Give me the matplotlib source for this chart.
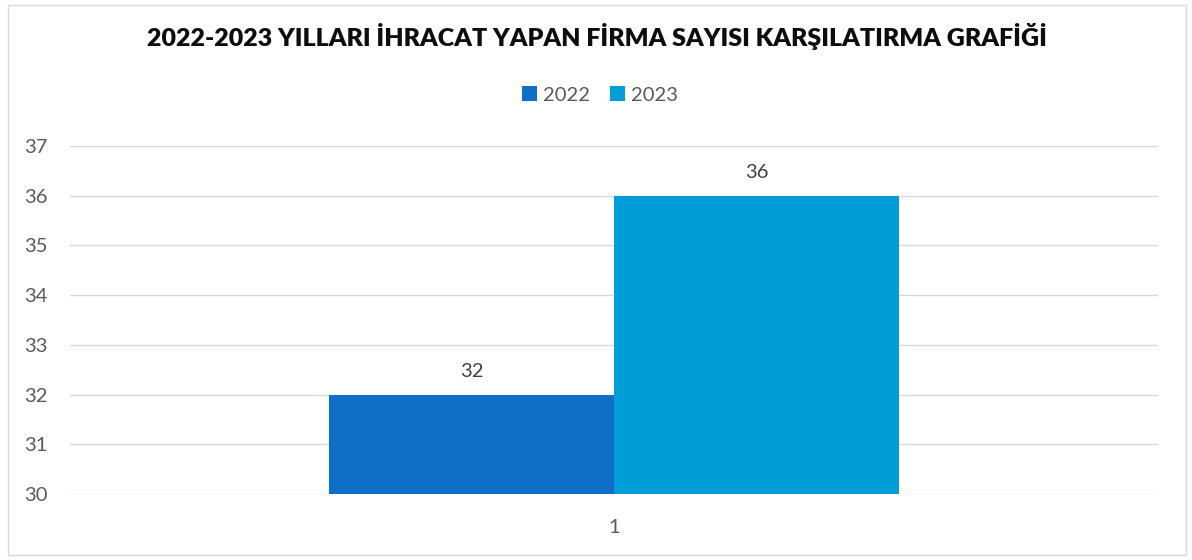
import numpy as np
import matplotlib
matplotlib.use("Agg")
from matplotlib import pyplot as plt
from matplotlib.patches import Rectangle

plt.rcParams['font.family'] = ['Lato', 'DejaVu Sans']

years = ['2022', '2023']
values = [32, 36]
colors = ['#0F6FC6', '#009DD9']
categories = ['1']

fig = plt.figure(figsize=(11.92, 5.6), dpi=100)
ax = fig.add_axes([70/1192, 1 - 494/560, (1158 - 70)/1192, (494 - 146)/560])

width = 0.262
x = np.arange(len(categories))
for i, (yr, val, col) in enumerate(zip(years, values, colors)):
    off = (i - 0.5) * width
    ax.bar(x + off, [val - 30], bottom=30, width=width, color=col, label=yr, zorder=3)
    ax.text(x[0] + off, val + 0.3, str(val), ha='center', va='bottom', fontsize=14.5, color='#404040')

ax.set_xlim(-0.5, 0.5)
ax.set_ylim(30, 37)
ax.set_yticks(range(30, 38))
ax.set_xticks(x)
ax.set_xticklabels(categories)
ax.grid(axis='y', color='#D9D9D9', linewidth=1, zorder=0)
for s in ax.spines.values():
    s.set_visible(False)
ax.tick_params(axis='both', length=0, labelsize=14.5, labelcolor='#595959')
ax.tick_params(axis='y', pad=16)
ax.tick_params(axis='x', pad=18)

fig.text(597/1192, 1 - 36/560, '2022-2023 YILLARI İHRACAT YAPAN FİRMA SAYISI KARŞILATIRMA GRAFİĞİ',
         ha='center', va='center', fontsize=18, fontweight='heavy', color='#0D0D0D')

fig.legend(loc='center', bbox_to_anchor=(600/1192, 1 - 95/560), ncol=2, frameon=False,
           fontsize=14.5, handlelength=0.75, handleheight=0.75, handletextpad=0.3, columnspacing=1.0,
           labelcolor='#595959')

fig.patches.append(Rectangle((8/1192, 5/560), 1178/1192, 550/560, transform=fig.transFigure,
                             fill=False, edgecolor='#D9D9D9', linewidth=1))

fig.savefig('out.png', dpi=100)
